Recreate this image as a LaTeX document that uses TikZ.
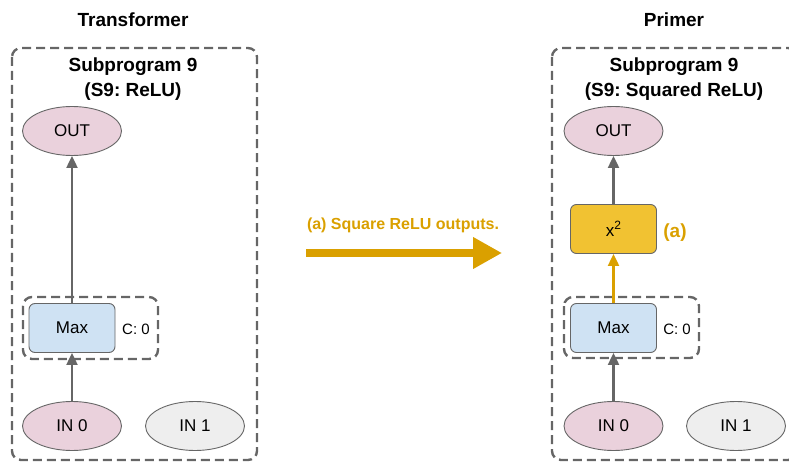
\documentclass[tikz,border=0pt]{standalone}
\usepackage{fontspec}
\setmainfont{Liberation Sans}
\frenchspacing
\usetikzlibrary{arrows.meta,shapes.geometric}
\definecolor{pinkf}{HTML}{EAD1DC}
\definecolor{greyf}{HTML}{EEEEEE}
\definecolor{bluef}{HTML}{CFE2F3}
\definecolor{yellowf}{HTML}{F1C232}
\definecolor{orng}{HTML}{DAA000}
\definecolor{edge}{HTML}{666666}
\tikzset{
  ell/.style={ellipse, draw=edge, line width=0.9pt, minimum width=99pt, minimum height=49pt, inner sep=0pt, font=\fontsize{17}{19}\selectfont},
  opbox/.style={rectangle, rounded corners=6pt, draw=edge, line width=0.9pt, minimum width=86pt, minimum height=49pt, inner sep=0pt, font=\fontsize{17}{19}\selectfont},
  dbox/.style={draw=edge, line width=2.4pt, dash pattern=on 9pt off 5pt, rounded corners=9pt},
  garrow/.style={draw=edge, line width=2.2pt, -{Triangle[length=12pt,width=11pt]}},
  oarrow/.style={draw=orng, line width=2.2pt, -{Triangle[length=12pt,width=11pt]}},
  title/.style={font=\fontsize{19}{25}\selectfont\bfseries, align=center},
  cnst/.style={font=\fontsize{15}{17}\selectfont},
}
\begin{document}
\begin{tikzpicture}[x=1pt,y=-1pt]
\useasboundingbox (0,0) rectangle (789,462);
% ---- left panel ----
\node[title] (tl) at (133,20) {Transformer};
\draw[dbox] (12,48) rectangle (257,460);
\node[title] (sl) at (133,79) {Subprogram 9\\(S9: ReLU)};
\draw[dbox] (23,297) rectangle (158,359);
\node[ell, fill=pinkf] (outL) at (72,131) {OUT};
\node[opbox, fill=bluef] (maxL) at (72,328) {Max};
\node[cnst] (cL) at (136,329) {C: 0};
\node[ell, fill=pinkf] (in0L) at (72,426) {IN 0};
\node[ell, fill=greyf] (in1L) at (195,426) {IN 1};
\draw[garrow] (maxL) -- (outL);
\draw[garrow] (in0L) -- (maxL);
% ---- middle arrow ----
\node[font=\fontsize{16}{18}\selectfont\bfseries, text=orng] (lab) at (403,225) {(a) Square ReLU outputs.};
\coordinate (as) at (306,253);
\coordinate (ae) at (502,253);
\draw[draw=orng, line width=7pt, -{Triangle[length=29pt,width=30pt]}] (as) -- (ae);
% ---- right panel ----
\node[title] (tr) at (674,20) {Primer};
\draw[dbox] (552,48) rectangle (797,460);
\node[title] (sr) at (674,79) {Subprogram 9\\(S9: Squared ReLU)};
\draw[dbox] (564,297) rectangle (699,358);
\node[ell, fill=pinkf] (outR) at (613.5,131) {OUT};
\node[opbox, fill=yellowf] (sq) at (613.5,229) {x\raisebox{7pt}{\fontsize{12}{12}\selectfont 2}};
\node[font=\fontsize{19}{20}\selectfont\bfseries, text=orng] (aR) at (675,233) {(a)};
\node[opbox, fill=bluef] (maxR) at (613.5,328) {Max};
\node[cnst] (cR) at (677,329) {C: 0};
\node[ell, fill=pinkf] (in0R) at (613.5,426) {IN 0};
\node[ell, fill=greyf] (in1R) at (736,426) {IN 1};
\draw[garrow] (sq) -- (outR);
\draw[oarrow] (maxR) -- (sq);
\draw[garrow] (in0R) -- (maxR);
\end{tikzpicture}
\end{document}
